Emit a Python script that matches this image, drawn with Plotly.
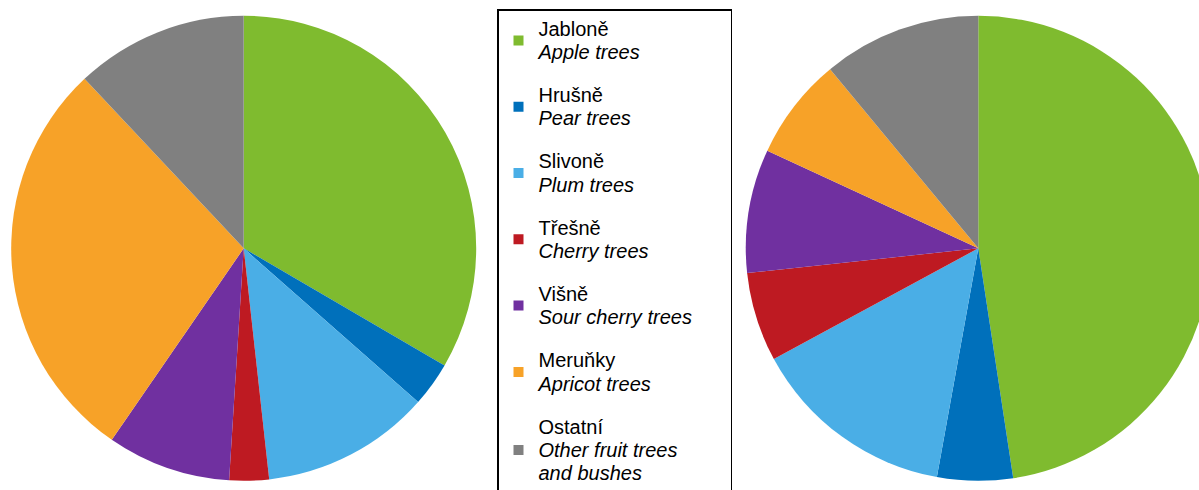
import plotly.graph_objects as go

# ---- data ----
categories_cz = ["Jabloně", "Hrušně", "Slivoně", "Třešně", "Višně", "Meruňky", "Ostatní"]
categories_en = ["Apple trees", "Pear trees", "Plum trees", "Cherry trees",
                 "Sour cherry trees", "Apricot trees", "Other fruit trees<br>and bushes"]
colors = ["#7FBB2F", "#0070BB", "#4AAEE6", "#BE1A22", "#7030A0", "#F7A228", "#808080"]
share_left = [33.4, 3.1, 11.75, 2.75, 8.6, 28.4, 12.0]
share_right = [47.6, 5.25, 14.25, 6.2, 8.6, 7.1, 11.0]

W, H = 1212, 505
NBSP = "\u00a0"
TXT = "<span style='font-size:20px'>{}</span>"


def make_label(cz, en):
    en_lines = en.split("<br>")
    if en == "Sour cherry trees":
        en_lines = [en + NBSP * 6]
    parts = [TXT.format(cz)] + [TXT.format(f"<i>{ln}</i>") for ln in en_lines]
    return "<br>".join(parts)


labels = [make_label(cz, en) for cz, en in zip(categories_cz, categories_en)]


def dom_x(c, r):
    return [(c - r) / W, (c + r) / W]


def dom_y(c, r):
    return [1 - (c + r) / H, 1 - (c - r) / H]


R = 232.5
fig = go.Figure()
for vals, cx in [(share_left, 243.7), (share_right, 978.3)]:
    fig.add_trace(go.Pie(
        labels=categories_cz, values=vals, sort=False, direction="clockwise",
        rotation=0, textinfo="none", hoverinfo="label+percent",
        marker=dict(colors=colors, line=dict(width=0)),
        domain=dict(x=dom_x(cx, R), y=dom_y(248.3, R)),
        showlegend=False,
    ))

# legend entries (one per category, matching slice colours)
for i, (lab, col) in enumerate(zip(labels, colors)):
    fig.add_trace(go.Scatter(
        x=[None], y=[None], mode="markers", name=lab, legendgroup=f"g{i}",
        marker=dict(symbol="square", size=10, color=col), hoverinfo="skip",
    ))

fig.update_layout(
    width=W, height=H,
    margin=dict(l=0, r=0, t=0, b=0),
    paper_bgcolor="white", plot_bgcolor="white",
    xaxis=dict(visible=False), yaxis=dict(visible=False),
    showlegend=True,
    legend=dict(
        x=497 / W, xanchor="left", y=1 - 9 / H, yanchor="top",
        bordercolor="black", borderwidth=1.5, bgcolor="white",
        font=dict(family="Liberation Sans, Arial, sans-serif", size=18, color="black"),
        traceorder="grouped", tracegroupgap=16.5, itemwidth=30,
    ),
)

fig.write_html(
    "out.html",
    config={"displayModeBar": False},
    post_script="document.body.style.margin='0';document.body.style.overflow='hidden';"
                "document.documentElement.style.overflow='hidden';",
)
